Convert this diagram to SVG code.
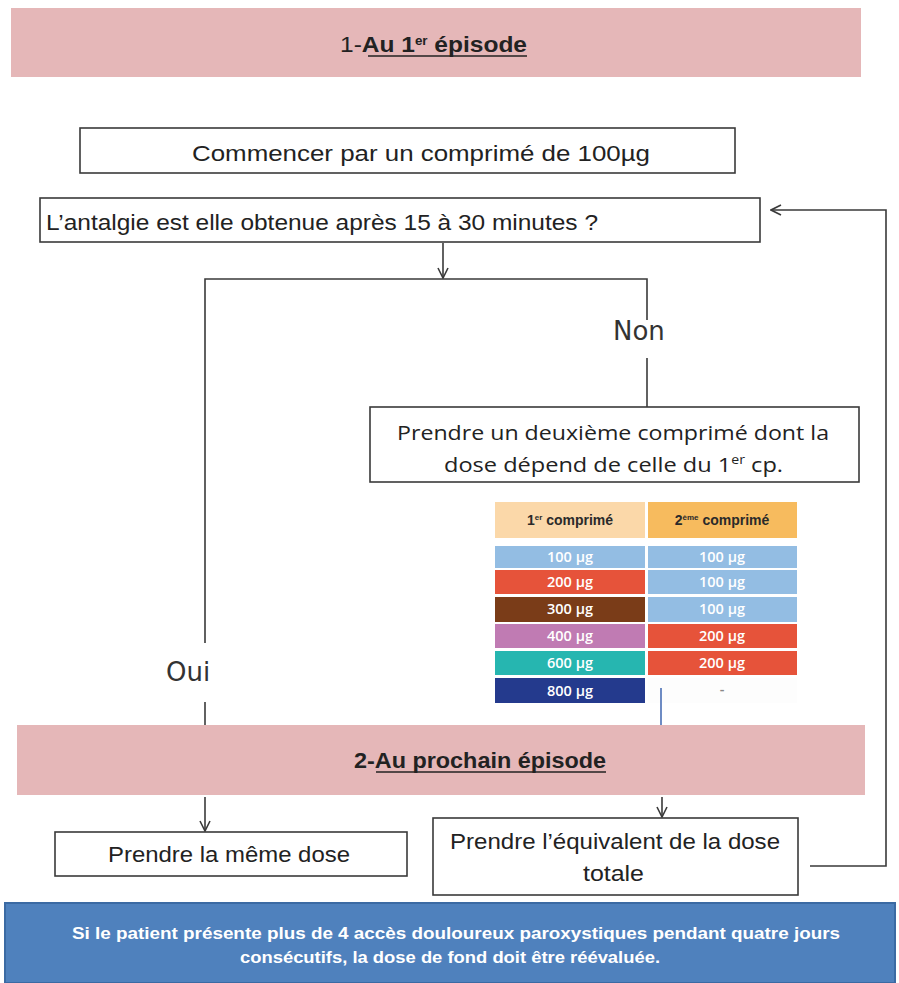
<svg xmlns="http://www.w3.org/2000/svg" width="899" height="983" viewBox="0 0 899 983">
<style>
.box{fill:#fff;stroke:#3a3a3a;stroke-width:1.6}
.band{fill:#e5b7b8}
.t{font-family:"Liberation Sans",Arial,sans-serif;fill:#222;font-size:22px}
.o{font-family:"Open Sans","Noto Sans",sans-serif;fill:#222;font-size:20px}
.lbl{font-family:"DejaVu Sans",sans-serif;fill:#333;font-size:26px}
.conn{stroke:#3a3a3a;stroke-width:1.6;fill:none}
.cell{font-family:"Open Sans","Noto Sans",sans-serif;fill:#fff;font-size:14.5px;font-weight:600;text-anchor:middle}
.hd{font-family:"Liberation Sans",Arial,sans-serif;fill:#2a2a2a;font-size:14px;font-weight:bold;text-anchor:middle}
.ul{stroke:#222;stroke-width:1.4}
.nt{font-family:"Liberation Sans",Arial,sans-serif;font-size:16px;font-weight:bold;fill:#fff}
</style>
<defs>
<marker id="arr" viewBox="0 0 12 12" refX="11" refY="6" markerWidth="12" markerHeight="12" markerUnits="userSpaceOnUse" orient="auto">
<path d="M1,1 L11,6 L1,11" fill="none" stroke="#3a3a3a" stroke-width="1.6"/>
</marker>
</defs>

<g id="banner1">
<rect class="band" x="11" y="8" width="850" height="69"/>
<text class="t" x="340" y="52" font-size="19" textLength="187" lengthAdjust="spacingAndGlyphs">1-<tspan font-weight="bold">Au 1<tspan font-size="12" dy="-7">er</tspan><tspan dy="7"> épisode</tspan></tspan></text>
<line class="ul" x1="368" y1="56" x2="527" y2="56"/>
</g>

<g id="start">
<rect class="box" x="80" y="128" width="655" height="45"/>
<text class="t" x="192" y="161" textLength="458" lengthAdjust="spacingAndGlyphs">Commencer par un comprimé de 100µg</text>
</g>

<g id="question">
<rect class="box" x="40" y="198" width="720" height="44"/>
<text class="t" x="46" y="230" textLength="552" lengthAdjust="spacingAndGlyphs">L’antalgie est elle obtenue après 15 à 30 minutes ?</text>
</g>

<g id="second">
<rect class="box" x="370" y="407" width="489" height="75"/>
<text class="o" x="397" y="440" textLength="432" lengthAdjust="spacingAndGlyphs">Prendre un deuxième comprimé dont la</text>
<text class="o" x="444" y="472" textLength="339" lengthAdjust="spacingAndGlyphs">dose dépend de celle du 1<tspan font-size="12" dy="-8">er</tspan><tspan dy="8"> cp.</tspan></text>
</g>

<g id="table">
<rect x="495" y="502" width="150" height="36" fill="#fbd8a9"/>
<rect x="648" y="502" width="149" height="36" fill="#f7bb5e"/>
<text class="hd" x="570" y="525">1<tspan font-size="8" dy="-5">er</tspan><tspan dy="5"> comprimé</tspan></text>
<text class="hd" x="722" y="525">2<tspan font-size="8" dy="-5">ème</tspan><tspan dy="5"> comprimé</tspan></text>

<rect x="495" y="546" width="150" height="22" fill="#93bde3"/>
<rect x="648" y="546" width="149" height="22" fill="#93bde3"/>
<rect x="495" y="570" width="150" height="24" fill="#e6533a"/>
<rect x="648" y="570" width="149" height="24" fill="#93bde3"/>
<rect x="495" y="597" width="150" height="25" fill="#7a3c18"/>
<rect x="648" y="597" width="149" height="25" fill="#93bde3"/>
<rect x="495" y="624" width="150" height="24" fill="#c07bb3"/>
<rect x="648" y="624" width="149" height="24" fill="#e6533a"/>
<rect x="495" y="651" width="150" height="24" fill="#26b6b0"/>
<rect x="648" y="651" width="149" height="24" fill="#e6533a"/>
<rect x="495" y="678" width="150" height="25" fill="#243a8d"/>
<rect x="648" y="678" width="149" height="25" fill="#fdfdfd"/>

<text class="cell" x="570" y="562">100 µg</text>
<text class="cell" x="722" y="562">100 µg</text>
<text class="cell" x="570" y="587">200 µg</text>
<text class="cell" x="722" y="587">100 µg</text>
<text class="cell" x="570" y="614">300 µg</text>
<text class="cell" x="722" y="614">100 µg</text>
<text class="cell" x="570" y="641">400 µg</text>
<text class="cell" x="722" y="641">200 µg</text>
<text class="cell" x="570" y="668">600 µg</text>
<text class="cell" x="722" y="668">200 µg</text>
<text class="cell" x="570" y="696">800 µg</text>
<text class="cell" x="722" y="694" style="fill:#888">-</text>
</g>

<g id="banner2">
<rect class="band" x="17" y="725" width="848" height="70"/>
<text class="t" x="354" y="768" font-size="19" font-weight="bold" textLength="252" lengthAdjust="spacingAndGlyphs">2-Au prochain épisode</text>
<line class="ul" x1="376" y1="772" x2="606" y2="772"/>
</g>

<g id="same">
<rect class="box" x="55" y="832" width="352" height="44"/>
<text class="t" x="108" y="862" textLength="242" lengthAdjust="spacingAndGlyphs">Prendre la même dose</text>
</g>

<g id="total">
<rect class="box" x="433" y="818" width="365" height="77"/>
<text class="t" x="450" y="849" textLength="330" lengthAdjust="spacingAndGlyphs">Prendre l’équivalent de la dose</text>
<text class="t" x="583" y="881" textLength="61" lengthAdjust="spacingAndGlyphs">totale</text>
</g>

<g id="note">
<rect x="5" y="903" width="890" height="80" fill="#4f81bd" stroke="#3b6aa3" stroke-width="2"/>
<text class="nt" x="72" y="939" textLength="768" lengthAdjust="spacingAndGlyphs">Si le patient présente plus de 4 accès douloureux paroxystiques pendant quatre jours</text>
<text class="nt" x="240" y="963" textLength="420" lengthAdjust="spacingAndGlyphs">consécutifs, la dose de fond doit être réévaluée.</text>
</g>

<g id="labels">
<text class="lbl" x="613" y="340">Non</text>
<text class="lbl" x="166" y="681">Oui</text>
</g>

<g id="connectors">
<line class="conn" x1="443" y1="243" x2="443" y2="278" marker-end="url(#arr)"/>
<polyline class="conn" points="205,643 205,279 647,279 647,320"/>
<line class="conn" x1="647" y1="358" x2="647" y2="407"/>
<line class="conn" x1="205" y1="702" x2="205" y2="725"/>
<line x1="661" y1="688" x2="661" y2="725" stroke="#4a6fb5" stroke-width="1.6"/>
<line class="conn" x1="205" y1="797" x2="205" y2="831" marker-end="url(#arr)"/>
<line class="conn" x1="662" y1="797" x2="662" y2="817" marker-end="url(#arr)"/>
<polyline class="conn" points="810,866 886,866 886,210 771,210" marker-end="url(#arr)"/>
</g>
</svg>
